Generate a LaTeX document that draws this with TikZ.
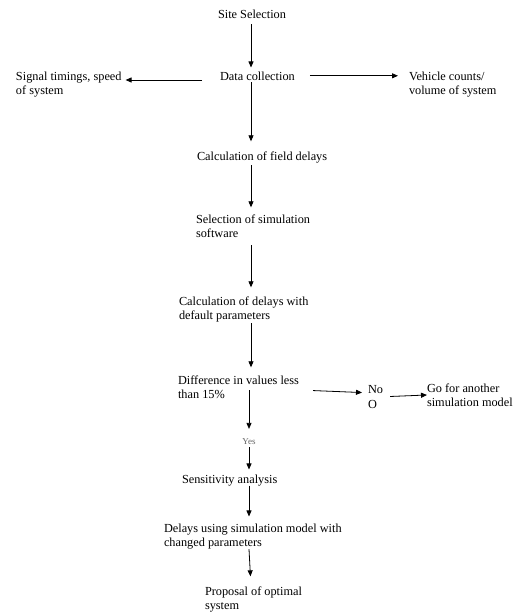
\documentclass[tikz,border=0pt]{standalone}
\usepackage{fontspec}
\setmainfont{Liberation Serif}
\usetikzlibrary{arrows.meta}
\begin{document}
\begin{tikzpicture}[x=1pt,y=-1pt,
  lbl/.style={inner sep=0pt,outer sep=0pt,align=left,anchor=base west,font=\fontsize{12.3}{14.5}\selectfont},
  arr/.style={line width=0.8pt,-{Triangle[length=6pt,width=5pt]}}]
\useasboundingbox (0,0) rectangle (518,613);
\coordinate (spine) at (251,0);
\node[lbl] (site) at (218,19) {Site Selection};
\node[lbl] (data) at (220,80) {Data collection};
\node[lbl] (signal) at (16,94.5) {Signal timings, speed\\of system};
\node[lbl] (vehicle) at (409,94.5) {Vehicle counts/\\volume of system};
\node[lbl] (field) at (197,160) {Calculation of field delays};
\node[lbl] (sel) at (196,237.5) {Selection of simulation\\software};
\node[lbl] (def) at (179,319.5) {Calculation of delays with\\default parameters};
\node[lbl] (diff) at (178,398.5) {Difference in values less\\than 15\%};
\node[lbl] (no) at (368,408) {No\\O};
\node[lbl] (go) at (427,406.5) {Go for another\\simulation model};
\node[inner sep=0pt,anchor=base,font=\fontsize{9}{10}\selectfont,text=black!60] (yes) at (249,444) {Yes};
\node[lbl] (sens) at (182,483) {Sensitivity analysis};
\node[lbl] (delays) at (164,546.5) {Delays using simulation model with\\changed parameters};
\node[lbl] (prop) at (205,609.5) {Proposal of optimal\\system};

\draw[arr,shorten <=5pt,shorten >=4pt] (site.south -| spine) -- (data.north -| spine);
\draw[arr,shorten <=2pt,shorten >=10pt] (data.south -| spine) -- (field.north -| spine);
\draw[arr,shorten <=2.4pt,shorten >=7pt] (field.south -| spine) -- (sel.north -| spine);
\draw[arr,shorten <=7.5pt,shorten >=9pt] (sel.south -| spine) -- (def.north -| spine);
\draw[arr,shorten <=1pt,shorten >=8pt] (def.south -| spine) -- (diff.north -| spine);
\draw[arr,shorten <=-8.5pt,shorten >=9pt] (diff.south -| yes) -- (yes.north);
\draw[arr,shorten <=3pt,shorten >=5pt] (yes.south) -- (sens.north -| yes);
\draw[arr,shorten >=7pt] (sens.south -| yes) -- (delays.north -| yes);
\draw[arr,shorten >=10pt] (delays.south -| yes) -- (prop.north -| spine);

\draw[arr,shorten <=18pt,shorten >=4pt] (data.base west) -- (data.base west -| signal.east);
\draw[arr,shorten <=15pt,shorten >=11pt] (data.east) -- (data.east -| vehicle.west);
\draw[arr,shorten <=14pt,shorten >=6pt] ([yshift=-3pt]diff.east) -- ([yshift=4pt]no.west);
\draw[arr,shorten <=7pt] (no.east) -- (go.west);
\end{tikzpicture}
\end{document}
